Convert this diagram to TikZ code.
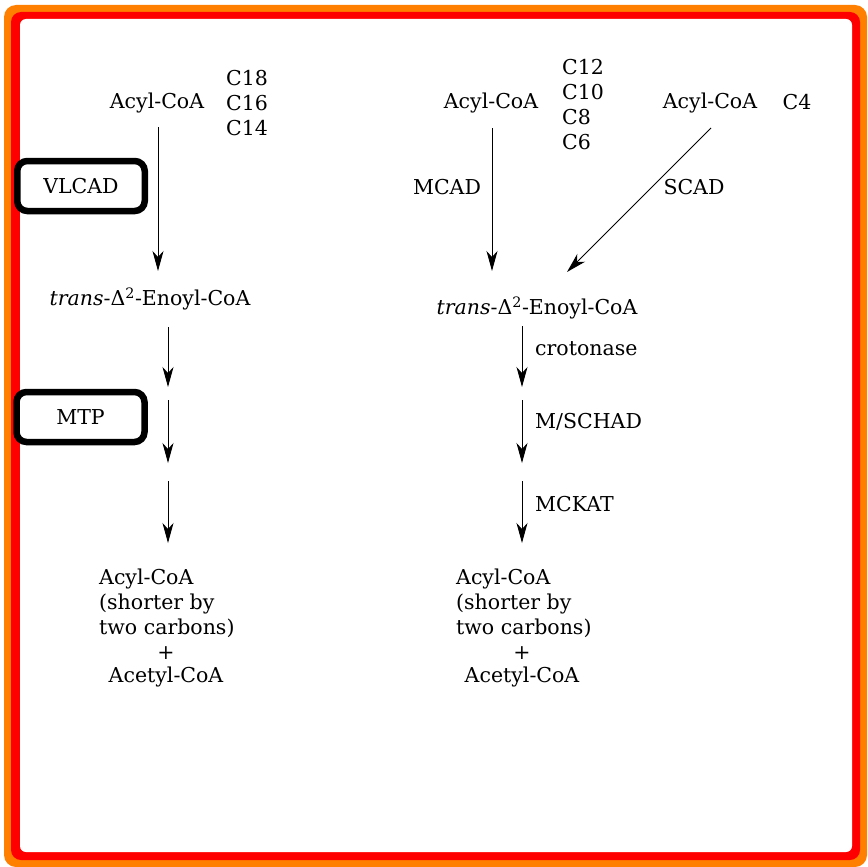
\documentclass[tikz,border=0pt]{standalone}
\usepackage{fontspec}
\setmainfont{DejaVu Serif}
\usetikzlibrary{arrows.meta}
\definecolor{bordorange}{HTML}{FF8000}
\definecolor{bordred}{HTML}{FF0000}
\begin{document}
\begin{tikzpicture}[x=1pt,y=-1pt,
  txt/.style={inner sep=0pt, font=\fontsize{20.5}{25}\selectfont},
  arr/.style={-{Stealth[length=20pt,width=11pt,inset=6pt]}, line width=0.9pt},
  enz/.style={draw, line width=6.5pt, rounded corners=10pt, inner sep=0pt, font=\fontsize{20.5}{25}\selectfont}]
\useasboundingbox (0,0) rectangle (867,867);
% frame
\fill[bordorange, rounded corners=12pt] (4,5) rectangle (867,867);
\fill[bordred, rounded corners=10pt] (11,12) rectangle (860,860);
\fill[white, rounded corners=6pt] (20,19) rectangle (852,852);

% ---------- left pathway ----------
\node[txt] (acylL) at (157,103) {Acyl-CoA};
\node[txt, anchor=west, align=left] (chainL) at (226,103) {C18\\C16\\C14};
\node[enz, minimum width=127.5pt, minimum height=50pt] (vlcad) at (81,186) {VLCAD};
\node[txt] (enoylL) at (150,299) {{\itshape trans}-Δ\textsuperscript{2}-Enoyl-CoA};
\node[enz, minimum width=128pt, minimum height=50pt] (mtp) at (80.5,417) {MTP};
\node[txt, anchor=west, align=left] (prodL) at (99,603) {Acyl-CoA\\(shorter by\\two carbons)};
\node[txt] (plusL) at (166,653) {+};
\node[txt] (acetylL) at (166,677) {Acetyl-CoA};

\coordinate (l1a) at (158,128);
\coordinate (l1b) at (158,271);
\draw[arr] (acylL.south -| l1a) ++(0,14) -- (l1b);
\coordinate (l2a) at (168,327);
\coordinate (l2b) at (168,387);
\coordinate (l3a) at (168,400);
\coordinate (l3b) at (168,463);
\coordinate (l4a) at (168,481);
\coordinate (l4b) at (168,543);
\draw[arr] (l2a) -- (l2b);
\draw[arr] (l3a) -- (l3b);
\draw[arr] (l4a) -- (l4b);

% ---------- right pathway ----------
\node[txt] (acylM) at (491,103) {Acyl-CoA};
\node[txt, anchor=west, align=left] (chainM) at (562,104.5) {C12\\C10\\C8\\C6};
\node[txt] (acylS) at (710,103) {Acyl-CoA};
\node[txt] (chainS) at (797,102) {C4};
\node[txt] (mcad) at (447,187) {MCAD};
\node[txt] (scad) at (694,187) {SCAD};
\node[txt] (enoylR) at (537,308) {{\itshape trans}-Δ\textsuperscript{2}-Enoyl-CoA};
\node[txt, anchor=west] (crot) at (535,349) {crotonase};
\node[txt, anchor=west] (mschad) at (535,422) {M/SCHAD};
\node[txt, anchor=west] (mckat) at (535,504) {MCKAT};
\node[txt, anchor=west, align=left] (prodR) at (456,603) {Acyl-CoA\\(shorter by\\two carbons)};
\node[txt] (plusR) at (522,653) {+};
\node[txt] (acetylR) at (522,677) {Acetyl-CoA};

\coordinate (m1a) at (492,128);
\coordinate (m1b) at (492,271);
\coordinate (s1a) at (711,128);
\coordinate (s1b) at (567,272);
\draw[arr] (m1a) -- (m1b);
\draw[arr] (s1a) -- (s1b);
\coordinate (r1a) at (522,326);
\coordinate (r1b) at (522,387);
\coordinate (r2a) at (522,400);
\coordinate (r2b) at (522,463);
\coordinate (r3a) at (522,481);
\coordinate (r3b) at (522,543);
\draw[arr] (r1a) -- (r1b);
\draw[arr] (r2a) -- (r2b);
\draw[arr] (r3a) -- (r3b);
\end{tikzpicture}
\end{document}
